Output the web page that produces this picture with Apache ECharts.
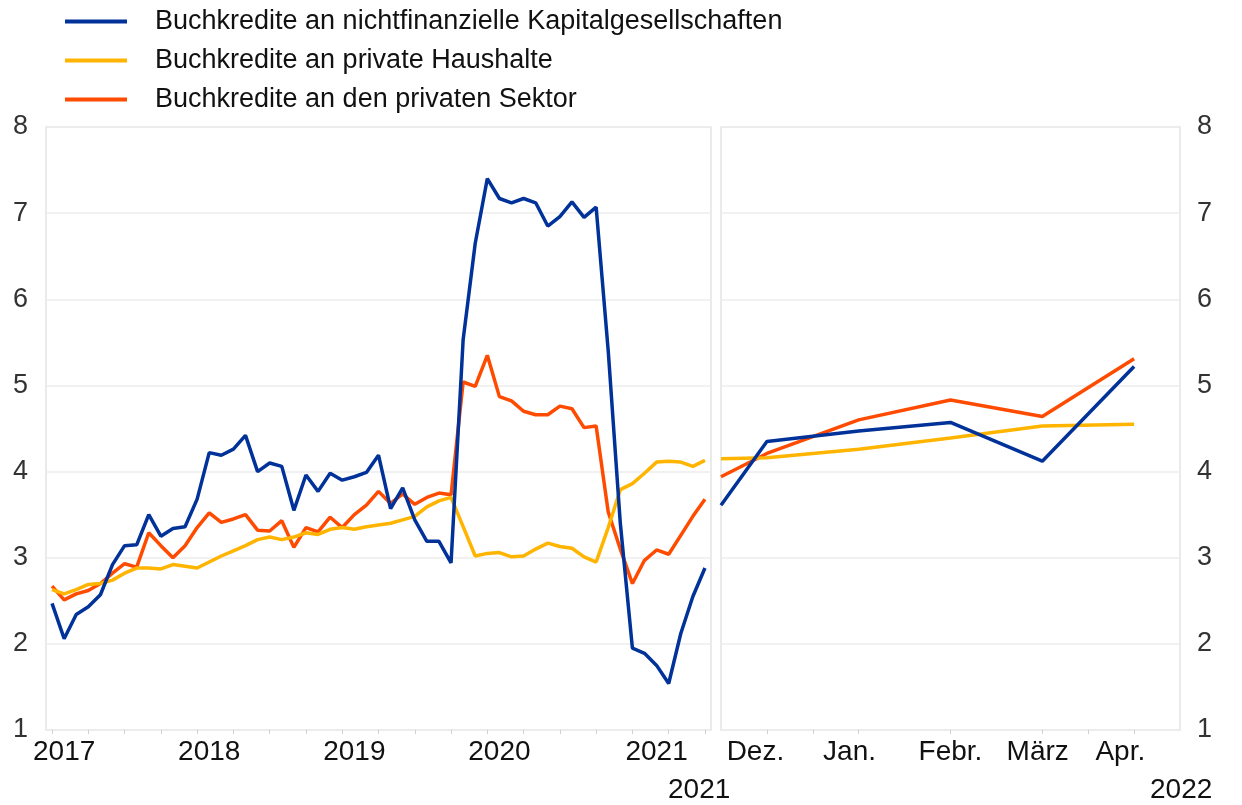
<!DOCTYPE html>
<html>
<head>
    <meta charset="utf-8">
    <title>Buchkredite</title>
    <style>
        html, body { margin: 0; padding: 0; background: #fff; }
        #chart { width: 1242px; height: 805px; }
    </style>
</head>
<body>
<div id="chart"></div>
<script src="https://cdn.jsdelivr.net/npm/echarts@6/dist/echarts.min.js"></script>
<script type="text/javascript">
    // Legend names
    var seriesNames = [
        'Buchkredite an nichtfinanzielle Kapitalgesellschaften',
        'Buchkredite an private Haushalte',
        'Buchkredite an den privaten Sektor'
    ];
    var colors = ['#003299', '#ffb400', '#ff4b00'];

    // Left panel: monthly, May 2017 - Nov 2021
    var startYear = 2017, startMonth = 5, monthCount = 55;
    var months = [];
    for (var i = 0; i < monthCount; i++) {
        var m = startMonth - 1 + i;
        var y = startYear + Math.floor(m / 12);
        var mm = (m % 12) + 1;
        months.push(y + '-' + (mm < 10 ? '0' + mm : mm));
    }
    // where the year labels sit (month index)
    var yearLabelIdx = [1, 13, 25, 37, 50];

    var nfcLoans = [2.47, 2.06, 2.34, 2.43, 2.57, 2.92, 3.14, 3.15, 3.50, 3.25, 3.34, 3.36,
        3.68, 4.22, 4.19, 4.26, 4.42, 4.00, 4.10, 4.06, 3.55, 3.96, 3.77, 3.98,
        3.90, 3.94, 3.99, 4.19, 3.57, 3.81, 3.44, 3.19, 3.19, 2.94, 5.53, 6.65,
        7.40, 7.17, 7.12, 7.17, 7.12, 6.85, 6.96, 7.13, 6.95, 7.07, 5.40, 3.40,
        1.95, 1.89, 1.75, 1.54, 2.12, 2.55, 2.88];
    var hhLoans = [2.63, 2.58, 2.63, 2.69, 2.70, 2.74, 2.82, 2.88, 2.88, 2.87, 2.92, 2.90,
        2.88, 2.95, 3.02, 3.08, 3.14, 3.21, 3.24, 3.21, 3.24, 3.29, 3.27, 3.33,
        3.35, 3.33, 3.36, 3.38, 3.40, 3.44, 3.48, 3.59, 3.66, 3.70, 3.36, 3.02,
        3.05, 3.06, 3.01, 3.02, 3.10, 3.17, 3.13, 3.11, 3.01, 2.95, 3.35, 3.79,
        3.86, 3.98, 4.11, 4.12, 4.11, 4.06, 4.13];
    var privLoans = [2.67, 2.51, 2.58, 2.62, 2.70, 2.82, 2.93, 2.89, 3.29, 3.14, 3.00, 3.14,
        3.35, 3.52, 3.41, 3.45, 3.50, 3.32, 3.31, 3.43, 3.12, 3.35, 3.30, 3.47,
        3.35, 3.50, 3.61, 3.77, 3.63, 3.74, 3.62, 3.70, 3.75, 3.73, 5.04, 4.99,
        5.35, 4.87, 4.82, 4.70, 4.66, 4.66, 4.76, 4.73, 4.51, 4.53, 3.53, 3.10,
        2.70, 2.97, 3.09, 3.04, 3.26, 3.48, 3.68];

    // Right panel: positions in half-month steps from end of Nov 2021
    var recentX = [0, 1, 3, 5, 7, 9];
    var nfcRecent = [3.61, 4.35, 4.47, 4.57, 4.12, 5.22];
    var hhRecent = [4.15, 4.16, 4.26, 4.39, 4.53, 4.55];
    var privRecent = [3.94, 4.21, 4.60, 4.83, 4.64, 5.31];

    var recentLabels = ['Dez.', 'Jan.', 'Febr.', 'März', 'Apr.'];
    var recentLabelPos = [0.75, 2.8, 5, 6.9, 8.7];
    var recentTickPos = [1, 2, 3, 5, 7, 8, 9];

    var yTicks = [1, 2, 3, 4, 5, 6, 7, 8];

    function pairs(xs, ys) {
        return xs.map(function (x, k) { return [x, ys[k]]; });
    }

    var fontFamily = 'Liberation Sans, Arial, sans-serif';
    var lineW = 3.5;

    var myChart = echarts.init(document.getElementById('chart'));

    var leftSeries = [nfcLoans, hhLoans, privLoans].map(function (d, k) {
        return {
            name: seriesNames[k], type: 'line', xAxisIndex: 0, yAxisIndex: 0,
            data: d, symbol: 'none', color: colors[k],
            lineStyle: {width: lineW, color: colors[k]}, z: 10 - k
        };
    });
    var rightSeries = [nfcRecent, hhRecent, privRecent].map(function (d, k) {
        return {
            name: seriesNames[k], type: 'line', xAxisIndex: 1, yAxisIndex: 1,
            data: pairs(recentX, d), symbol: 'none', color: colors[k],
            lineStyle: {width: lineW, color: colors[k]}, z: 10 - k
        };
    });

    var option = {
        animation: false,
        textStyle: {fontFamily: fontFamily},
        legend: {
            orient: 'vertical',
            left: 60,
            top: 1,
            itemWidth: 62,
            itemHeight: 4,
            itemGap: 8,
            icon: 'rect',
            data: seriesNames,
            textStyle: {fontSize: 27, color: '#111', lineHeight: 31, padding: [0, 0, 0, 23], fontFamily: fontFamily}
        },
        grid: [
            {left: 46, width: 665, top: 127, bottom: 75, show: true, borderColor: '#e3e3e3', borderWidth: 1.5},
            {left: 721, width: 459, top: 127, bottom: 75, show: true, borderColor: '#e3e3e3', borderWidth: 1.5}
        ],
        xAxis: [
            {
                type: 'category', gridIndex: 0, data: months, boundaryGap: true,
                axisLine: {show: false},
                axisTick: {
                    show: true, alignWithLabel: true, length: 4,
                    lineStyle: {color: '#cfcfcf'},
                    interval: function (idx) { return idx % 3 === 0; }
                },
                axisLabel: {
                    fontSize: 28, color: '#111', margin: 8,
                    interval: function (idx) { return yearLabelIdx.indexOf(idx) >= 0; },
                    formatter: function (val) { return val.slice(0, 4); }
                },
                splitLine: {show: false}
            },
            {
                type: 'value', gridIndex: 1, min: 0, max: 10,
                axisLine: {show: false},
                axisTick: {show: true, length: 4, lineStyle: {color: '#cfcfcf'}, customValues: recentTickPos},
                axisLabel: {
                    fontSize: 28, color: '#111', margin: 8, customValues: recentLabelPos,
                    formatter: function (v) {
                        var k = recentLabelPos.indexOf(v);
                        return k >= 0 ? recentLabels[k] : '';
                    }
                },
                splitLine: {show: false}
            }
        ],
        yAxis: [
            {
                type: 'value', gridIndex: 0, min: yTicks[0], max: yTicks[yTicks.length - 1], interval: 1,
                position: 'left',
                axisLine: {show: false}, axisTick: {show: false},
                axisLabel: {fontSize: 27, color: '#333', margin: 18},
                splitLine: {lineStyle: {color: '#ececec', width: 1.5}}
            },
            {
                type: 'value', gridIndex: 1, min: yTicks[0], max: yTicks[yTicks.length - 1], interval: 1,
                position: 'right',
                axisLine: {show: false}, axisTick: {show: false},
                axisLabel: {fontSize: 27, color: '#333', margin: 17},
                splitLine: {lineStyle: {color: '#ececec', width: 1.5}}
            }
        ],
        graphic: [
            {type: 'text', left: 668, top: 776, style: {text: '2021', fontSize: 28, fill: '#111', fontFamily: fontFamily}},
            {type: 'text', left: 1150, top: 776, style: {text: '2022', fontSize: 28, fill: '#111', fontFamily: fontFamily}}
        ],
        series: leftSeries.concat(rightSeries)
    };

    myChart.setOption(option);
</script>
</body>
</html>
